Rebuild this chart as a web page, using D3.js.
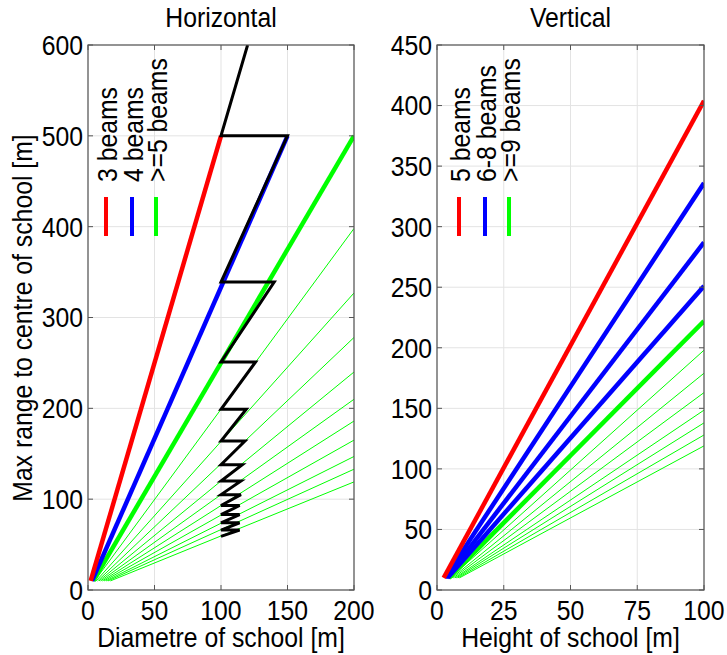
<!DOCTYPE html>
<html>
<head>
<meta charset="utf-8">
<script src="https://cdn.jsdelivr.net/npm/d3@7"></script>
<style>
html,body{margin:0;padding:0;background:#fff;}
svg text{font-family:"Liberation Sans",Arial,Helvetica,sans-serif;fill:#000;}
</style>
</head>
<body>
<svg id="chart" width="727" height="655"></svg>
<script>
// ---------------- DATA ----------------
// Horizontal panel
const hTicksX = [0, 50, 100, 150, 200];
const hTicksY = [0, 100, 200, 300, 400, 500, 600];
const hLegendLabels = ["3 beams", "4 beams", ">=5 beams"];
const hLegendColors = ["#ff0000", "#0000ff", "#00ff00"];
const hMinRange = 10;
const hThickStartD = [2, 3, 4];
const hThickEndD = [100, 150, 200];
const hThickEndR = [500, 500, 500];
const hThickColors = ["#ff0000", "#0000ff", "#00ff00"];
const hThinStartD = [5, 6.1, 7.2, 8.3, 9.5, 10.8, 12.1, 13.6, 15, 16.8];
const hThinEndD = 200;
const hThinEndR = [398, 327, 278, 240, 210, 186, 165, 147, 133, 119];
const zigzagD = [120, 100, 150, 100, 140, 100, 126, 100, 119, 100, 118, 100, 116, 100, 115, 100, 115, 100, 114, 100, 114, 100, 114, 100, 114, 100];
const zigzagR = [600, 500, 500, 339, 339, 251, 251, 199, 199, 164, 164, 138, 138, 120, 120, 105, 105, 93, 93, 83, 83, 74, 74, 66, 66, 59];

// Vertical panel
const vTicksX = [0, 25, 50, 75, 100];
const vTicksY = [0, 50, 100, 150, 200, 250, 300, 350, 400, 450];
const vLegendLabels = ["5 beams", "6-8 beams", ">=9 beams"];
const vLegendColors = ["#ff0000", "#0000ff", "#00ff00"];
const vMinRange = 10;
const vThickStartH = [2.5, 3, 3.5, 4, 4.5];
const vThickEndH = 100;
const vThickEndR = [404, 336, 287, 251, 222];
const vThickColors = ["#ff0000", "#0000ff", "#0000ff", "#0000ff", "#00ff00"];
const vThinStartH = [5, 5.6, 6.1, 6.7, 7.2, 7.8, 8.4];
const vThinEndH = 100;
const vThinEndR = [198, 179, 163, 148.5, 138, 128, 119];

// ---------------- DRAW ----------------
const svg = d3.select("#chart");
const FONT = 27.5;
const SQUEEZE = 0.9;

function condense(sel) {
  sel.each(function () {
    const w = this.getComputedTextLength();
    d3.select(this).attr("textLength", w * SQUEEZE).attr("lengthAdjust", "spacingAndGlyphs");
  });
  return sel;
}

function panel(cfg) {
  const x = d3.scaleLinear().domain(cfg.xDomain).range([cfg.left, cfg.right]);
  const y = d3.scaleLinear().domain(cfg.yDomain).range([cfg.bottom, cfg.top]);
  const g = svg.append("g");
  const clipId = "clip" + cfg.id;
  svg.append("clipPath").attr("id", clipId).append("rect")
    .attr("x", cfg.left).attr("y", cfg.top)
    .attr("width", cfg.right - cfg.left).attr("height", cfg.bottom - cfg.top);

  // grid
  g.append("g").selectAll("line").data(cfg.xTicks).join("line")
    .attr("x1", d => x(d)).attr("x2", d => x(d))
    .attr("y1", cfg.top).attr("y2", cfg.bottom)
    .attr("stroke", "#e3e3e3").attr("stroke-width", 1);
  g.append("g").selectAll("line").data(cfg.yTicks).join("line")
    .attr("y1", d => y(d)).attr("y2", d => y(d))
    .attr("x1", cfg.left).attr("x2", cfg.right)
    .attr("stroke", "#e3e3e3").attr("stroke-width", 1);

  const plot = g.append("g").attr("clip-path", `url(#${clipId})`);
  cfg.draw(plot, x, y);

  // box + ticks
  g.append("rect").attr("x", cfg.left).attr("y", cfg.top)
    .attr("width", cfg.right - cfg.left).attr("height", cfg.bottom - cfg.top)
    .attr("fill", "none").attr("stroke", "#555").attr("stroke-width", 1.2);
  const tl = 5;
  cfg.xTicks.forEach(d => {
    g.append("line").attr("x1", x(d)).attr("x2", x(d)).attr("y1", cfg.bottom).attr("y2", cfg.bottom - tl).attr("stroke", "#555");
    g.append("line").attr("x1", x(d)).attr("x2", x(d)).attr("y1", cfg.top).attr("y2", cfg.top + tl).attr("stroke", "#555");
  });
  cfg.yTicks.forEach(d => {
    g.append("line").attr("y1", y(d)).attr("y2", y(d)).attr("x1", cfg.left).attr("x2", cfg.left + tl).attr("stroke", "#555");
    g.append("line").attr("y1", y(d)).attr("y2", y(d)).attr("x1", cfg.right).attr("x2", cfg.right - tl).attr("stroke", "#555");
  });

  // tick labels
  condense(g.append("g").selectAll("text").data(cfg.xTicks).join("text")
    .attr("x", d => x(d)).attr("y", cfg.bottom + 30)
    .attr("text-anchor", "middle").attr("font-size", FONT).text(d => d));
  condense(g.append("g").selectAll("text").data(cfg.yTicks).join("text")
    .attr("x", cfg.left - 5).attr("y", d => y(d)).attr("dy", "0.36em")
    .attr("text-anchor", "end").attr("font-size", FONT).text(d => d));

  // title and x label
  condense(g.append("text").attr("x", (cfg.left + cfg.right) / 2).attr("y", 27)
    .attr("text-anchor", "middle").attr("font-size", FONT).text(cfg.title));
  condense(g.append("text").attr("x", (cfg.left + cfg.right) / 2).attr("y", 647)
    .attr("text-anchor", "middle").attr("font-size", FONT).text(cfg.xLabel));

  // legend
  cfg.legendLabels.forEach((lab, i) => {
    const lx = cfg.legendX[i];
    g.append("line").attr("x1", lx).attr("x2", lx).attr("y1", 197).attr("y2", 236)
      .attr("stroke", cfg.legendColors[i]).attr("stroke-width", 4);
    condense(g.append("text").attr("transform", `translate(${lx + 1},182) rotate(-90)`)
      .attr("dy", "0.36em").attr("font-size", FONT).text(lab));
  });
  return {x, y, g};
}

const line = d3.line();

panel({
  id: "h", left: 88, right: 354, top: 45, bottom: 590,
  xDomain: [0, 200], yDomain: [0, 600],
  xTicks: hTicksX, yTicks: hTicksY,
  title: "Horizontal", xLabel: "Diametre of school [m]",
  legendLabels: hLegendLabels, legendColors: hLegendColors, legendX: [106, 132, 156],
  draw: (p, x, y) => {
    hThinEndR.forEach((r, i) => {
      p.append("path").attr("d", line([[x(hThinStartD[i]), y(hMinRange)], [x(hThinEndD), y(r)]]))
        .attr("stroke", "#00ff00").attr("stroke-width", 1).attr("fill", "none");
    });
    [2, 1, 0].forEach(i => {
      p.append("path").attr("d", line([[x(hThickStartD[i]), y(hMinRange)], [x(hThickEndD[i]), y(hThickEndR[i])]]))
        .attr("stroke", hThickColors[i]).attr("stroke-width", 4.5).attr("fill", "none");
    });
    p.append("path").attr("d", line(zigzagD.map((d, i) => [x(d), y(zigzagR[i])])))
      .attr("stroke", "#000").attr("stroke-width", 3).attr("fill", "none")
      .attr("stroke-linejoin", "miter");
  }
});

panel({
  id: "v", left: 437, right: 704, top: 45, bottom: 590,
  xDomain: [0, 100], yDomain: [0, 450],
  xTicks: vTicksX, yTicks: vTicksY,
  title: "Vertical", xLabel: "Height of school [m]",
  legendLabels: vLegendLabels, legendColors: vLegendColors, legendX: [459, 485, 509],
  draw: (p, x, y) => {
    vThinEndR.forEach((r, i) => {
      p.append("path").attr("d", line([[x(vThinStartH[i]), y(vMinRange)], [x(vThinEndH), y(r)]]))
        .attr("stroke", "#00ff00").attr("stroke-width", 1).attr("fill", "none");
    });
    [4, 3, 2, 1, 0].forEach(i => {
      p.append("path").attr("d", line([[x(vThickStartH[i]), y(vMinRange)], [x(vThickEndH), y(vThickEndR[i])]]))
        .attr("stroke", vThickColors[i]).attr("stroke-width", 4.5).attr("fill", "none");
    });
  }
});

// shared y label
condense(svg.append("text").attr("transform", "translate(22,318) rotate(-90)")
  .attr("dy", "0.36em").attr("text-anchor", "middle").attr("font-size", FONT)
  .text("Max range to centre of school [m]"));
</script>
</body>
</html>
